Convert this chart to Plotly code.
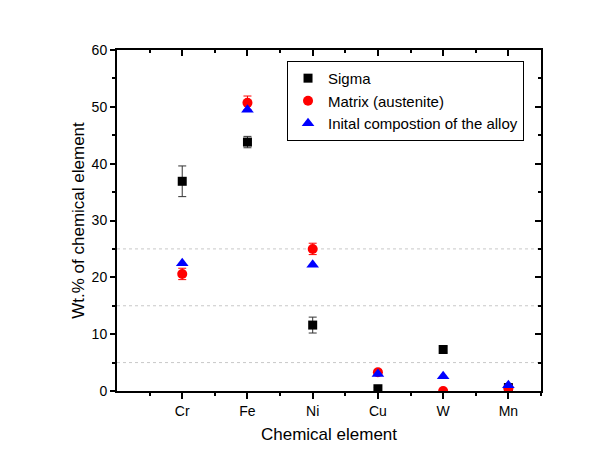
import plotly.graph_objects as go

categories = ["Cr", "Fe", "Ni", "Cu", "W", "Mn"]
sigma = [36.9, 43.8, 11.6, 0.4, 7.3, 0.6]
sigma_err = [2.7, 1.0, 1.4, 0.2, 0.5, 0.2]
matrix = [20.6, 50.7, 25.0, 3.3, 0.0, 0.5]
matrix_err = [1.0, 1.2, 1.0, 0.5, 0.1, 0.2]
initial = [22.5, 49.5, 22.2, 3.0, 2.6, 1.0]
ref_lines = [5, 15, 25]

xpos = [i + 1 for i in range(len(categories))]
font = "Liberation Sans, Arial, sans-serif"

fig = go.Figure()
fig.add_trace(go.Scatter(
    x=xpos, y=sigma, mode="markers", name="Sigma",
    marker=dict(symbol="square", size=9, color="black"),
    error_y=dict(type="data", array=sigma_err, color="#333333", thickness=1, width=4),
))
fig.add_trace(go.Scatter(
    x=xpos, y=matrix, mode="markers", name="Matrix (austenite)",
    marker=dict(symbol="circle", size=10, color="#ff0000"),
    error_y=dict(type="data", array=matrix_err, color="#ff0000", thickness=1, width=4),
))
fig.add_trace(go.Scatter(
    x=xpos, y=initial, mode="markers", name="Inital compostion of the alloy",
    marker=dict(symbol="triangle-up", size=11, color="#0000ff"),
))
# invisible trace to anchor mirror axes
fig.add_trace(go.Scatter(x=[xpos[0]], y=[initial[0]], xaxis="x2", yaxis="y2",
                         mode="markers", marker=dict(opacity=0), showlegend=False,
                         hoverinfo="skip"))

for v in ref_lines:
    fig.add_shape(type="line", xref="paper", x0=0, x1=1, yref="y", y0=v, y1=v,
                  line=dict(color="#c8c8c8", width=1, dash="dot"), layer="below")

minor_x = [i + 0.5 for i in range(len(categories) + 1)]
axis_common = dict(showline=True, linecolor="black", linewidth=2, showgrid=False,
                   zeroline=False, tickcolor="black", tickwidth=1.5)

fig.update_layout(
    width=610, height=466,
    margin=dict(l=117, r=69, t=50, b=75),
    paper_bgcolor="white", plot_bgcolor="white",
    font=dict(family=font, color="black", size=14),
    xaxis=dict(range=[0, len(categories) + 0.5], tickvals=xpos, ticktext=categories,
               ticks="outside", ticklen=6,
               minor=dict(tickvals=minor_x, ticks="outside", ticklen=3, tickcolor="black"),
               title=dict(text="Chemical element", font=dict(size=17), standoff=10),
               tickfont=dict(size=14), **axis_common),
    yaxis=dict(range=[0, 60], dtick=10, ticks="outside", ticklen=5,
               minor=dict(dtick=5, ticks="outside", ticklen=3, tickcolor="black"),
               title=dict(text="Wt.% of chemical element", font=dict(size=17), standoff=3),
               tickfont=dict(size=14), **axis_common),
    xaxis2=dict(overlaying="x", side="top", range=[0, len(categories) + 0.5],
                tickvals=xpos, ticks="inside", ticklen=6, showticklabels=False,
                minor=dict(tickvals=minor_x, ticks="inside", ticklen=3, tickcolor="black"),
                **axis_common),
    yaxis2=dict(overlaying="y", side="right", range=[0, 60], dtick=10,
                ticks="inside", ticklen=6, showticklabels=False,
                minor=dict(dtick=5, ticks="inside", ticklen=3, tickcolor="black"),
                **axis_common),
    legend=dict(x=0.401, y=0.968, xanchor="left", yanchor="top",
                bordercolor="black", borderwidth=1, bgcolor="white",
                font=dict(size=15), tracegroupgap=0, itemsizing="trace"),
    showlegend=True,
)

fig.write_html("out.html", config={"displayModeBar": False},
               post_script="document.body.style.margin='0px';")
